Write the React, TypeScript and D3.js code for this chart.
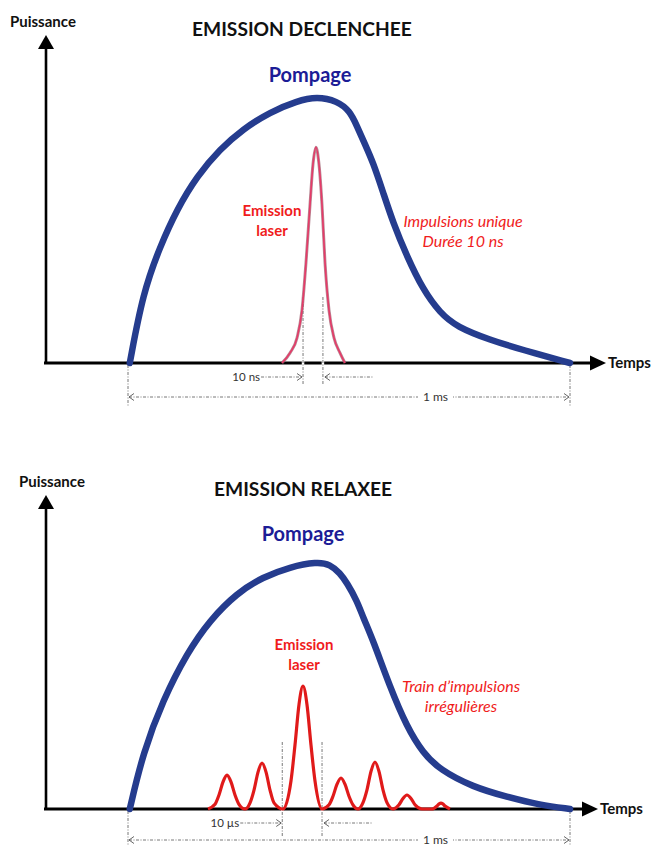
import React from 'react';
import * as d3 from 'd3';

// ---------- DATA ----------
// time in µs (the 1 ms pumping window), power in % of pump peak
const timeDomain = [0, 1000];
const powerDomain = [0, 100];

const pumpTopTime = [4, 4, 33.9, 72.4, 110.9, 156.1, 208.1, 260.2, 321.3, 382.4, 427.6, 472.9, 502, 518, 536, 554.3, 577, 599.6, 631.2, 667.4, 705.9, 744.3, 819, 893.7, 1000];
const pumpTopPower = [0, 0, 26.5, 43.9, 58, 70.5, 80.7, 88.3, 94.7, 98.9, 100.5, 98.9, 95.1, 89.4, 82.6, 75.8, 64.5, 53, 40.2, 27.7, 18.9, 13.6, 8.7, 4.9, 0];

const laserTopTime = [348.4, 366.5, 382.4, 393.7, 402.7, 411.8, 418.5, 425.3, 432.1, 438.9, 445.7, 454.7, 466.1, 479.6, 490.9];
const laserTopPower = [0, 3.8, 9.5, 20, 37.9, 59.8, 75, 81.4, 75, 59.8, 37.9, 20, 9.5, 3.8, 0];

const pumpBottomTime = [4, 4, 33.9, 79.2, 133.5, 185.5, 246.6, 305.4, 366.5, 427.6, 457, 479.6, 495.5, 518.1, 531.7, 554.3, 592.7, 631.2, 667.4, 705.9, 780.5, 857.5, 932.1, 1000];
const pumpBottomPower = [0, 0, 22.8, 44.3, 63.4, 76.8, 87.8, 94.3, 98.4, 100.5, 99.5, 95.9, 91.9, 84.6, 78, 68.7, 49.6, 33.3, 22.8, 15.9, 8.9, 4.9, 1.6, 0];

const laserBottomTime = [
  181, 196.9, 205.9, 215, 224, 233, 242.1, 251.1,
  264.7, 276.1, 285.1, 294.2, 303.2, 312.3, 321.3, 330.3,
  350.7, 368.8, 377.8, 386.9, 395.9, 404.9, 414, 423,
  438.9, 454.8, 463.8, 472.9, 481.9, 490.9, 500, 509,
  520.4, 531.7, 540.7, 549.8, 558.8, 567.8, 576.9, 585.9,
  599.5, 613.1, 622.2, 631.2, 640.2, 649.3,
  665.1, 687.8, 699.1, 704, 708.1, 712.2, 717.2, 728.5,
];
const laserBottomPower = [
  0, 1.9, 5.7, 11, 13.8, 11, 5.7, 1.9,
  0, 2.5, 7.7, 15, 18.7, 15, 7.7, 2.5,
  0, 11.5, 26, 42.5, 50, 42.5, 26, 11.5,
  0, 1.7, 5.2, 10.1, 12.6, 10.1, 5.2, 1.7,
  0, 2.6, 7.8, 15.3, 19.1, 15.3, 7.8, 2.6,
  0, 1.7, 4.3, 5.7, 4.3, 1.7,
  0, 0, 1.2, 2.1, 2.4, 2.1, 1.2, 0,
];

// annotation markers (time, µs)
const topPulseMarks = [396, 441];
const bottomPulseMarks = [349, 439];
const windowMarks = [0, 1000];

const FONT = "Lato, 'Open Sans', sans-serif";
const PUMP_COLOR = '#253c8e';
const PUMP_TEXT = '#1c1c96';
const RED = '#f01c1c';
const DIM = '#555';

const zip = (t: number[], p: number[]) => t.map((v, i) => [v, p[i]] as [number, number]);

function chevron(x: number, y: number, dir: number) {
  return `M${x - dir * 5},${y - 3.5} L${x},${y} L${x - dir * 5},${y + 3.5}`;
}

type PanelProps = {
  title: string;
  titleX: number;
  axisY: number;
  peakY: number;
  yAxisX: number;
  yAxisTop: number;
  xArrowTip: number;
  pumpT: number[];
  pumpP: number[];
  laserT: number[];
  laserP: number[];
  single: boolean;
  marks: number[];
  markTop: number;
  markBottom: number;
  markArrowY: number;
  markLabel: string;
  msLineY: number;
  msVertBottom: number;
  pompageY: number;
  pompageX: number;
  emissionX: number;
  emissionY: number;
  noteLines: string[];
  noteX: number;
  noteY: number;
  puissanceX: number;
  labelY: number;
};

function Panel(pr: PanelProps) {
  const x = d3.scaleLinear().domain(timeDomain).range([128, 570]);
  const y = d3.scaleLinear().domain(powerDomain).range([pr.axisY, pr.peakY]);
  const smooth = d3
    .line<[number, number]>()
    .x((d) => x(d[0]))
    .y((d) => y(d[1]))
    .curve(d3.curveBasis);
  const mono = d3
    .line<[number, number]>()
    .x((d) => x(d[0]))
    .y((d) => y(d[1]))
    .curve(d3.curveMonotoneX);
  const pumpPath = smooth(zip(pr.pumpT, pr.pumpP)) || '';
  const laserPath = mono(zip(pr.laserT, pr.laserP)) || '';
  const ax = pr.axisY;
  const m0 = x(pr.marks[0]);
  const m1 = x(pr.marks[1]);
  const w0 = x(windowMarks[0]);
  const w1 = x(windowMarks[1]);
  const dash = '3,1.5,1,1.5';
  return (
    <g>
      {/* labels */}
      <text x={pr.puissanceX} y={pr.labelY} fontFamily={FONT} fontWeight={700} fontSize={15} fill="#111">
        Puissance
      </text>
      <text x={pr.titleX} y={pr.labelY + 9} fontFamily={FONT} fontWeight={700} fontSize={19.2} fill="#111">
        {pr.title}
      </text>
      <text x={pr.pompageX} y={pr.pompageY} fontFamily={FONT} fontWeight={700} fontSize={20} fill={PUMP_TEXT} textAnchor="middle">
        Pompage
      </text>

      {/* axes */}
      <line x1={pr.yAxisX} y1={ax + 1} x2={pr.yAxisX} y2={pr.yAxisTop + 10} stroke="#000" strokeWidth={2.6} />
      <path d={`M${pr.yAxisX},${pr.yAxisTop} L${pr.yAxisX - 8},${pr.yAxisTop + 14} L${pr.yAxisX + 8},${pr.yAxisTop + 14} Z`} fill="#000" />
      <line x1={pr.yAxisX - 2} y1={ax} x2={pr.xArrowTip - 10} y2={ax} stroke="#000" strokeWidth={3} />
      <path d={`M${pr.xArrowTip},${ax} L${pr.xArrowTip - 16},${ax - 7.5} L${pr.xArrowTip - 16},${ax + 7.5} Z`} fill="#000" />
      <text x={pr.xArrowTip + 2} y={ax + 4.5} fontFamily={FONT} fontWeight={700} fontSize={15} fill="#111">
        Temps
      </text>

      {/* pulse-width dimension */}
      {[m0, m1].map((mx, i) => (
        <g key={i}>
          <line x1={mx} y1={ax - 2} x2={mx} y2={ax + 2} stroke="#fff" strokeWidth={2.5} />
          <line x1={mx} y1={pr.markTop} x2={mx} y2={pr.markBottom} stroke={DIM} strokeWidth={0.8} strokeDasharray={dash} />
        </g>
      ))}
      <text x={m0 - 43} y={pr.markArrowY + 4} fontFamily={FONT} fontSize={11.5} fill="#333" textAnchor="end">
        {pr.markLabel}
      </text>
      <line x1={m0 - 42} y1={pr.markArrowY} x2={m0 - 1} y2={pr.markArrowY} stroke={DIM} strokeWidth={0.8} strokeDasharray={dash} />
      <path d={chevron(m0 - 1, pr.markArrowY, 1)} fill="none" stroke={DIM} strokeWidth={0.9} />
      <line x1={m1 + 2} y1={pr.markArrowY} x2={m1 + 50} y2={pr.markArrowY} stroke={DIM} strokeWidth={0.8} strokeDasharray={dash} />
      <path d={chevron(m1 + 2, pr.markArrowY, -1)} fill="none" stroke={DIM} strokeWidth={0.9} />

      {/* 1 ms window dimension */}
      {[w0, w1].map((wx, i) => (
        <line key={i} x1={wx} y1={ax + 2} x2={wx} y2={pr.msVertBottom} stroke={DIM} strokeWidth={0.8} strokeDasharray={dash} />
      ))}
      <line x1={w0 + 1} y1={pr.msLineY} x2={w1 - 1} y2={pr.msLineY} stroke={DIM} strokeWidth={0.8} strokeDasharray={dash} />
      <path d={chevron(w0 + 1, pr.msLineY, -1)} fill="none" stroke={DIM} strokeWidth={0.9} />
      <path d={chevron(w1 - 1, pr.msLineY, 1)} fill="none" stroke={DIM} strokeWidth={0.9} />
      <rect x={418} y={pr.msLineY - 6} width={35} height={12} fill="#fff" />
      <text x={435.5} y={pr.msLineY + 4} fontFamily={FONT} fontSize={12} fill="#333" textAnchor="middle">
        1 ms
      </text>

      {/* curves */}
      <path d={pumpPath} fill="none" stroke={PUMP_COLOR} strokeWidth={6.5} strokeLinecap="round" />
      {pr.single ? (
        <g>
          <path d={laserPath} fill="none" stroke="#9a5a6a" strokeWidth={3} opacity={0.7} />
          <path d={laserPath} fill="none" stroke="#e63a68" strokeWidth={1.6} />
        </g>
      ) : (
        <path d={laserPath} fill="none" stroke="#e01a1a" strokeWidth={3.2} strokeLinejoin="round" />
      )}

      {/* annotations */}
      <text x={pr.emissionX} y={pr.emissionY} fontFamily={FONT} fontWeight={700} fontSize={15} fill={RED} textAnchor="middle">
        Emission
      </text>
      <text x={pr.emissionX} y={pr.emissionY + 20} fontFamily={FONT} fontWeight={700} fontSize={15} fill={RED} textAnchor="middle">
        laser
      </text>
      {pr.noteLines.map((l, i) => (
        <text key={i} x={pr.noteX} y={pr.noteY + i * 20} fontFamily={FONT} fontStyle="italic" fontSize={16} fill={RED} textAnchor="middle">
          {l}
        </text>
      ))}
    </g>
  );
}

export default function App() {
  return (
    <svg width={654} height={846} style={{ position: 'absolute', left: 0, top: 0, background: '#fff' }}>
      <rect width={654} height={846} fill="#fff" />
      <Panel
        title="EMISSION DECLENCHEE"
        titleX={192}
        axisY={363}
        peakY={98}
        yAxisX={46}
        yAxisTop={35}
        xArrowTip={606}
        pumpT={pumpTopTime}
        pumpP={pumpTopPower}
        laserT={laserTopTime}
        laserP={laserTopPower}
        single={true}
        marks={topPulseMarks}
        markTop={297}
        markBottom={385}
        markArrowY={377}
        markLabel="10 ns"
        msLineY={397}
        msVertBottom={406}
        pompageY={82}
        pompageX={310}
        emissionX={272}
        emissionY={216}
        noteLines={['Impulsions unique', 'Durée 10 ns']}
        noteX={463}
        noteY={227}
        puissanceX={10}
        labelY={27}
      />
      <Panel
        title="EMISSION RELAXEE"
        titleX={214}
        axisY={809}
        peakY={563}
        yAxisX={46}
        yAxisTop={495}
        xArrowTip={598}
        pumpT={pumpBottomTime}
        pumpP={pumpBottomPower}
        laserT={laserBottomTime}
        laserP={laserBottomPower}
        single={false}
        marks={bottomPulseMarks}
        markTop={742}
        markBottom={836}
        markArrowY={823}
        markLabel="10 µs"
        msLineY={840}
        msVertBottom={846}
        pompageY={541}
        pompageX={303}
        emissionX={304}
        emissionY={650}
        noteLines={['Train d\u2019impulsions', 'irrégulières']}
        noteX={461}
        noteY={692}
        puissanceX={19}
        labelY={487}
      />
    </svg>
  );
}
